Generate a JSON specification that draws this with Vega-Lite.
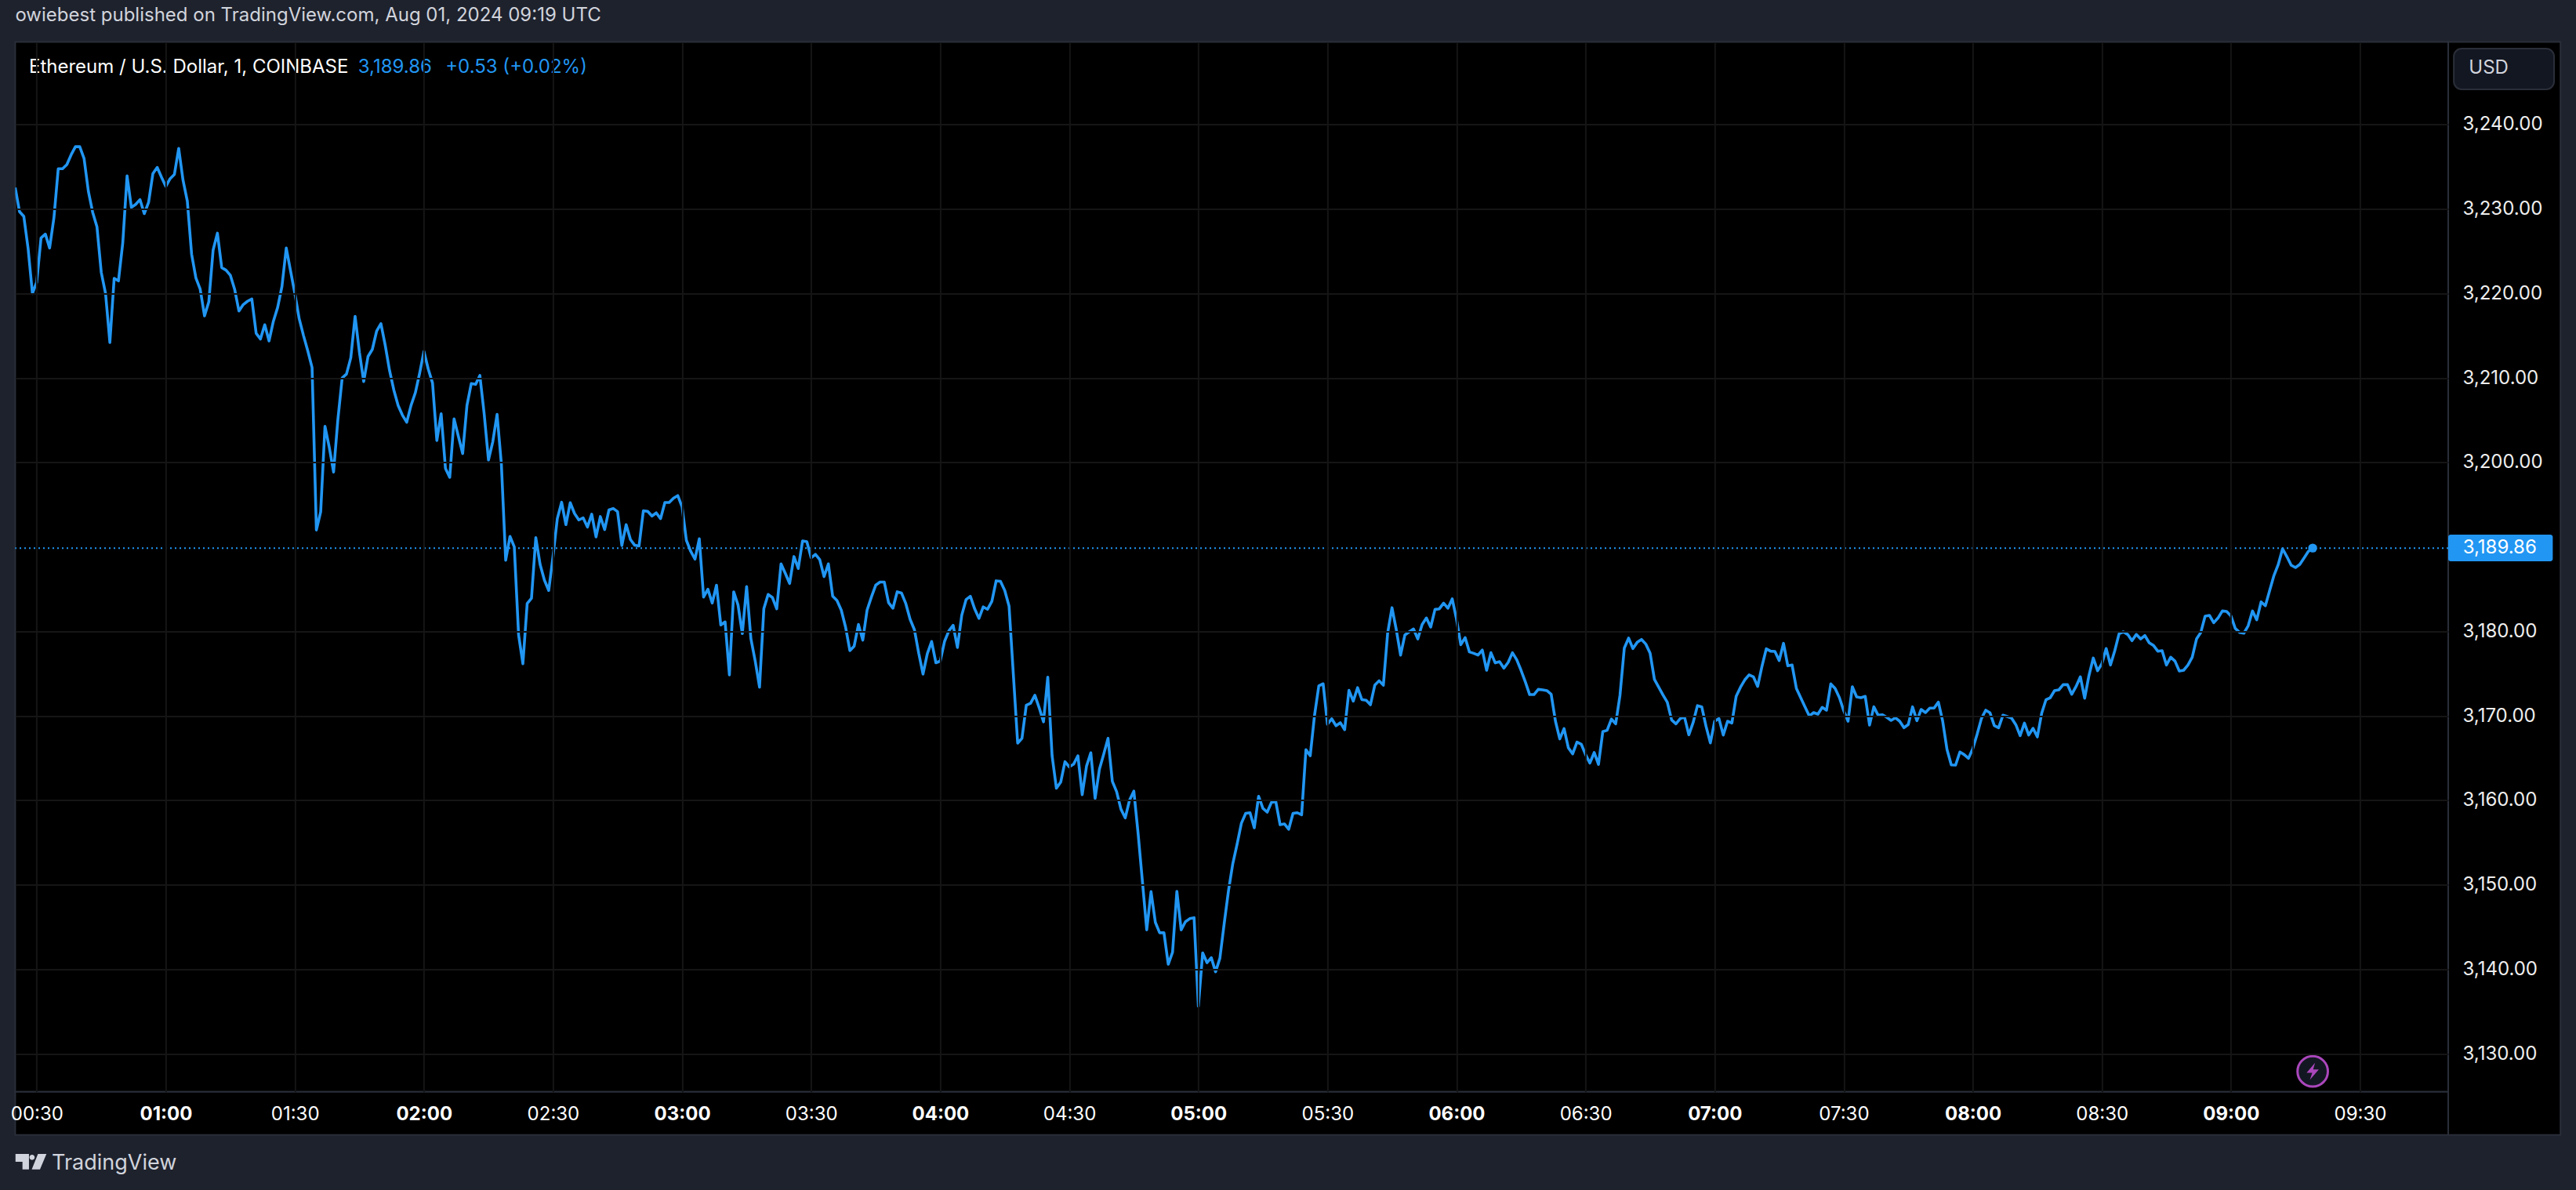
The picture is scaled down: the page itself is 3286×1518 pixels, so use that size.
{
"$schema":"https://vega.github.io/schema/vega-lite/v6.json",
"width":3103.6,"height":1339.2,
"autosize":"none",
"padding":{"left":19.4,"top":53.5,"right":163,"bottom":125.3},
"background":"#1e222d",
"title":{"text":"owiebest published on TradingView.com, Aug 01, 2024 09:19 UTC","anchor":"start","frame":"group","offset":9,"baseline":"middle","font":"Inter","fontSize":24,"fontWeight":"normal","color":"#d1d4dc"},
"view":{"fill":"#000000","stroke":"#2a2e39","strokeWidth":2},
"config":{"font":"Inter"},
"layer":[
{"data":{"values":[{"panel":"price"}]},
 "mark":{"type":"rect","fill":"#000000","stroke":"#2a2e39","strokeWidth":2},
 "encoding":{"x":{"datum":{"year":1900,"month":1,"date":1,"hours":9,"minutes":50,"seconds":30,"utc":true},"type":"temporal","title":null},"x2":{"datum":{"year":1900,"month":1,"date":1,"hours":10,"minutes":16,"seconds":36,"utc":true}},"y":{"datum":3249.79,"type":"quantitative","title":null},"y2":{"datum":3120.38}}},
{"data":{"values":[{"panel":"time"}]},
 "mark":{"type":"rect","fill":"#000000","stroke":"#2a2e39","strokeWidth":2},
 "encoding":{"x":{"datum":{"year":1900,"month":1,"date":1,"hours":0,"minutes":25,"utc":true},"type":"temporal","title":null},"x2":{"datum":{"year":1900,"month":1,"date":1,"hours":9,"minutes":50,"seconds":30,"utc":true}},"y":{"datum":3125.48,"type":"quantitative","title":null},"y2":{"datum":3120.38}}},
{"data":{"values":[{"panel":"currency"}]},
 "mark":{"type":"rect","fill":"#131722","stroke":"#2a2e39","strokeWidth":2,"cornerRadius":10},
 "encoding":{"x":{"datum":{"year":1900,"month":1,"date":1,"hours":9,"minutes":51,"seconds":48,"utc":true},"type":"temporal","title":null},"x2":{"datum":{"year":1900,"month":1,"date":1,"hours":10,"minutes":15,"seconds":6,"utc":true}},"y":{"datum":3249.0,"type":"quantitative","title":null},"y2":{"datum":3244.18}}},
{"data":{"values":[{"last":3189.86}]},
 "mark":{"type":"rule","color":"#2196f3","strokeWidth":2,"strokeDash":[2,4]},
 "encoding":{"y":{"field":"last","type":"quantitative","title":null}}},
{"data":{"format":{"parse":{"t":"utc:'%H:%M'"}},"values":[
{"t":"00:25","p":3232.55},{"t":"00:26","p":3229.7},{"t":"00:27","p":3229.13},{"t":"00:28","p":3225.32},{"t":"00:29","p":3220.0},{"t":"00:30","p":3221.34},{"t":"00:31","p":3226.58},{"t":"00:32","p":3227.04},{"t":"00:33","p":3225.39},{"t":"00:34","p":3228.97},{"t":"00:35","p":3234.77},{"t":"00:36","p":3234.77},{"t":"00:37","p":3235.27},{"t":"00:38","p":3236.43},{"t":"00:39","p":3237.39},{"t":"00:40","p":3237.39},{"t":"00:41","p":3236.0},{"t":"00:42","p":3232.12},{"t":"00:43","p":3229.63},{"t":"00:44","p":3227.91},{"t":"00:45","p":3222.5},{"t":"00:46","p":3220.0},{"t":"00:47","p":3214.2},{"t":"00:48","p":3221.8},{"t":"00:49","p":3221.5},{"t":"00:50","p":3226.0},{"t":"00:51","p":3233.94},{"t":"00:52","p":3230.2},{"t":"00:53","p":3230.56},{"t":"00:54","p":3231.12},{"t":"00:55","p":3229.46},{"t":"00:56","p":3230.79},{"t":"00:57","p":3234.2},{"t":"00:58","p":3234.93},{"t":"00:59","p":3233.77},
{"t":"01:00","p":3232.68},{"t":"01:01","p":3233.6},{"t":"01:02","p":3234.1},{"t":"01:03","p":3237.19},{"t":"01:04","p":3233.44},{"t":"01:05","p":3230.95},{"t":"01:06","p":3224.66},{"t":"01:07","p":3221.84},{"t":"01:08","p":3220.51},{"t":"01:09","p":3217.36},{"t":"01:10","p":3219.02},{"t":"01:11","p":3225.15},{"t":"01:12","p":3227.15},{"t":"01:13","p":3223.07},{"t":"01:14","p":3222.77},{"t":"01:15","p":3222.17},{"t":"01:16","p":3220.51},{"t":"01:17","p":3217.93},{"t":"01:18","p":3218.69},{"t":"01:19","p":3219.09},{"t":"01:20","p":3219.35},{"t":"01:21","p":3215.3},{"t":"01:22","p":3214.61},{"t":"01:23","p":3216.3},{"t":"01:24","p":3214.38},{"t":"01:25","p":3216.7},{"t":"01:26","p":3218.36},{"t":"01:27","p":3220.84},{"t":"01:28","p":3225.39},{"t":"01:29","p":3222.67},{"t":"01:30","p":3220.0},{"t":"01:31","p":3217.03},{"t":"01:32","p":3215.04},{"t":"01:33","p":3213.22},{"t":"01:34","p":3211.23},{"t":"01:35","p":3192.0},{"t":"01:36","p":3194.15},{"t":"01:37","p":3204.27},{"t":"01:38","p":3201.78},{"t":"01:39","p":3198.86},{"t":"01:40","p":3205.1},{"t":"01:41","p":3210.0},{"t":"01:42","p":3210.47},{"t":"01:43","p":3212.39},{"t":"01:44","p":3217.3},{"t":"01:45","p":3213.05},{"t":"01:46","p":3209.57},{"t":"01:47","p":3212.55},{"t":"01:48","p":3213.38},{"t":"01:49","p":3215.54},{"t":"01:50","p":3216.44},{"t":"01:51","p":3213.88},{"t":"01:52","p":3210.9},{"t":"01:53","p":3208.58},{"t":"01:54","p":3206.75},{"t":"01:55","p":3205.6},{"t":"01:56","p":3204.76},{"t":"01:57","p":3206.75},{"t":"01:58","p":3208.25},{"t":"01:59","p":3210.57},
{"t":"02:00","p":3213.15},{"t":"02:01","p":3211.06},{"t":"02:02","p":3209.4},{"t":"02:03","p":3202.6},{"t":"02:04","p":3205.76},{"t":"02:05","p":3199.3},{"t":"02:06","p":3198.23},{"t":"02:07","p":3205.16},{"t":"02:08","p":3203.1},{"t":"02:09","p":3201.05},{"t":"02:10","p":3206.75},{"t":"02:11","p":3209.34},{"t":"02:12","p":3209.24},{"t":"02:13","p":3210.3},{"t":"02:14","p":3205.76},{"t":"02:15","p":3200.29},{"t":"02:16","p":3202.44},{"t":"02:17","p":3205.69},{"t":"02:18","p":3199.79},{"t":"02:19","p":3188.42},{"t":"02:20","p":3191.24},{"t":"02:21","p":3190.0},{"t":"02:22","p":3179.58},{"t":"02:23","p":3176.17},{"t":"02:24","p":3183.29},{"t":"02:25","p":3183.91},{"t":"02:26","p":3191.09},{"t":"02:27","p":3187.93},{"t":"02:28","p":3186.07},{"t":"02:29","p":3184.84},{"t":"02:30","p":3188.86},{"t":"02:31","p":3193.34},{"t":"02:32","p":3195.29},{"t":"02:33","p":3192.63},{"t":"02:34","p":3195.23},{"t":"02:35","p":3193.96},{"t":"02:36","p":3193.19},{"t":"02:37","p":3193.44},{"t":"02:38","p":3192.35},{"t":"02:39","p":3193.87},{"t":"02:40","p":3191.18},{"t":"02:41","p":3193.59},{"t":"02:42","p":3192.05},{"t":"02:43","p":3194.37},{"t":"02:44","p":3194.55},{"t":"02:45","p":3194.18},{"t":"02:46","p":3190.16},{"t":"02:47","p":3192.63},{"t":"02:48","p":3190.87},{"t":"02:49","p":3190.19},{"t":"02:50","p":3190.1},{"t":"02:51","p":3194.27},{"t":"02:52","p":3194.21},{"t":"02:53","p":3193.65},{"t":"02:54","p":3194.03},{"t":"02:55","p":3193.34},{"t":"02:56","p":3195.26},{"t":"02:57","p":3195.26},{"t":"02:58","p":3195.76},{"t":"02:59","p":3196.07},
{"t":"03:00","p":3194.74},{"t":"03:01","p":3190.78},{"t":"03:02","p":3189.48},{"t":"03:03","p":3188.55},{"t":"03:04","p":3190.96},{"t":"03:05","p":3184.06},{"t":"03:06","p":3184.99},{"t":"03:07","p":3183.35},{"t":"03:08","p":3185.46},{"t":"03:09","p":3180.75},{"t":"03:10","p":3181.12},{"t":"03:11","p":3174.84},{"t":"03:12","p":3184.68},{"t":"03:13","p":3183.13},{"t":"03:14","p":3179.73},{"t":"03:15","p":3185.3},{"t":"03:16","p":3179.11},{"t":"03:17","p":3176.48},{"t":"03:18","p":3173.39},{"t":"03:19","p":3182.67},{"t":"03:20","p":3184.37},{"t":"03:21","p":3184.0},{"t":"03:22","p":3182.67},{"t":"03:23","p":3187.99},{"t":"03:24","p":3186.85},{"t":"03:25","p":3185.67},{"t":"03:26","p":3188.86},{"t":"03:27","p":3187.44},{"t":"03:28","p":3190.71},{"t":"03:29","p":3190.62},{"t":"03:30","p":3188.7},{"t":"03:31","p":3189.11},{"t":"03:32","p":3188.49},{"t":"03:33","p":3186.48},{"t":"03:34","p":3187.99},{"t":"03:35","p":3184.16},{"t":"03:36","p":3183.66},{"t":"03:37","p":3182.52},{"t":"03:38","p":3180.5},{"t":"03:39","p":3177.72},{"t":"03:40","p":3178.25},{"t":"03:41","p":3180.81},{"t":"03:42","p":3178.96},{"t":"03:43","p":3182.52},{"t":"03:44","p":3184.06},{"t":"03:45","p":3185.46},{"t":"03:46","p":3185.83},{"t":"03:47","p":3185.83},{"t":"03:48","p":3183.38},{"t":"03:49","p":3182.73},{"t":"03:50","p":3184.68},{"t":"03:51","p":3184.53},{"t":"03:52","p":3183.29},{"t":"03:53","p":3181.43},{"t":"03:54","p":3180.2},{"t":"03:55","p":3177.41},{"t":"03:56","p":3174.94},{"t":"03:57","p":3177.35},{"t":"03:58","p":3178.8},{"t":"03:59","p":3176.27},
{"t":"04:00","p":3176.48},{"t":"04:01","p":3178.8},{"t":"04:02","p":3180.04},{"t":"04:03","p":3180.72},{"t":"04:04","p":3178.09},{"t":"04:05","p":3181.9},{"t":"04:06","p":3183.75},{"t":"04:07","p":3184.16},{"t":"04:08","p":3182.67},{"t":"04:09","p":3181.53},{"t":"04:10","p":3182.89},{"t":"04:11","p":3182.61},{"t":"04:12","p":3183.54},{"t":"04:13","p":3185.98},{"t":"04:14","p":3185.92},{"t":"04:15","p":3184.84},{"t":"04:16","p":3182.98},{"t":"04:17","p":3174.86},{"t":"04:18","p":3166.76},{"t":"04:19","p":3167.33},{"t":"04:20","p":3171.24},{"t":"04:21","p":3171.49},{"t":"04:22","p":3172.44},{"t":"04:23","p":3170.95},{"t":"04:24","p":3169.28},{"t":"04:25","p":3174.58},{"t":"04:26","p":3165.27},{"t":"04:27","p":3161.43},{"t":"04:28","p":3162.14},{"t":"04:29","p":3164.56},{"t":"04:30","p":3163.95},{"t":"04:31","p":3164.27},{"t":"04:32","p":3165.27},{"t":"04:33","p":3160.65},{"t":"04:34","p":3164.03},{"t":"04:35","p":3165.62},{"t":"04:36","p":3160.22},{"t":"04:37","p":3163.67},{"t":"04:38","p":3165.45},{"t":"04:39","p":3167.33},{"t":"04:40","p":3162.25},{"t":"04:41","p":3161.01},{"t":"04:42","p":3158.95},{"t":"04:43","p":3157.91},{"t":"04:44","p":3160.01},{"t":"04:45","p":3161.08},{"t":"04:46","p":3156.03},{"t":"04:47","p":3150.35},{"t":"04:48","p":3144.66},{"t":"04:49","p":3149.18},{"t":"04:50","p":3145.55},{"t":"04:51","p":3144.31},{"t":"04:52","p":3144.31},{"t":"04:53","p":3140.58},{"t":"04:54","p":3142.0},{"t":"04:55","p":3149.21},{"t":"04:56","p":3144.66},{"t":"04:57","p":3145.62},{"t":"04:58","p":3145.98},{"t":"04:59","p":3146.09},
{"t":"05:00","p":3135.61},{"t":"05:01","p":3141.93},{"t":"05:02","p":3140.76},{"t":"05:03","p":3141.36},{"t":"05:04","p":3139.69},{"t":"05:05","p":3141.29},{"t":"05:06","p":3145.38},{"t":"05:07","p":3149.28},{"t":"05:08","p":3152.48},{"t":"05:09","p":3154.79},{"t":"05:10","p":3157.28},{"t":"05:11","p":3158.45},{"t":"05:12","p":3158.52},{"t":"05:13","p":3156.74},{"t":"05:14","p":3160.47},{"t":"05:15","p":3159.05},{"t":"05:16","p":3158.59},{"t":"05:17","p":3159.76},{"t":"05:18","p":3159.83},{"t":"05:19","p":3157.1},{"t":"05:20","p":3157.2},{"t":"05:21","p":3156.57},{"t":"05:22","p":3158.45},{"t":"05:23","p":3158.52},{"t":"05:24","p":3158.27},{"t":"05:25","p":3165.98},{"t":"05:26","p":3165.27},{"t":"05:27","p":3170.06},{"t":"05:28","p":3173.55},{"t":"05:29","p":3173.79},{"t":"05:30","p":3169.0},{"t":"05:31","p":3169.64},{"t":"05:32","p":3168.82},{"t":"05:33","p":3169.18},{"t":"05:34","p":3168.36},{"t":"05:35","p":3173.01},{"t":"05:36","p":3171.73},{"t":"05:37","p":3173.33},{"t":"05:38","p":3171.91},{"t":"05:39","p":3171.84},{"t":"05:40","p":3171.31},{"t":"05:41","p":3173.62},{"t":"05:42","p":3174.15},{"t":"05:43","p":3173.62},{"t":"05:44","p":3179.83},{"t":"05:45","p":3182.8},{"t":"05:46","p":3180.2},{"t":"05:47","p":3177.19},{"t":"05:48","p":3179.57},{"t":"05:49","p":3179.94},{"t":"05:50","p":3180.28},{"t":"05:51","p":3179.1},{"t":"05:52","p":3180.8},{"t":"05:53","p":3181.58},{"t":"05:54","p":3180.5},{"t":"05:55","p":3182.6},{"t":"05:56","p":3182.66},{"t":"05:57","p":3183.34},{"t":"05:58","p":3182.73},{"t":"05:59","p":3183.84},
{"t":"06:00","p":3181.43},{"t":"06:01","p":3178.42},{"t":"06:02","p":3179.26},{"t":"06:03","p":3177.56},{"t":"06:04","p":3177.4},{"t":"06:05","p":3177.19},{"t":"06:06","p":3177.78},{"t":"06:07","p":3175.39},{"t":"06:08","p":3177.47},{"t":"06:09","p":3176.26},{"t":"06:10","p":3176.41},{"t":"06:11","p":3175.64},{"t":"06:12","p":3176.32},{"t":"06:13","p":3177.47},{"t":"06:14","p":3176.63},{"t":"06:15","p":3175.39},{"t":"06:16","p":3174.0},{"t":"06:17","p":3172.51},{"t":"06:18","p":3172.51},{"t":"06:19","p":3173.13},{"t":"06:20","p":3173.07},{"t":"06:21","p":3172.98},{"t":"06:22","p":3172.55},{"t":"06:23","p":3169.36},{"t":"06:24","p":3167.26},{"t":"06:25","p":3168.49},{"t":"06:26","p":3166.2},{"t":"06:27","p":3165.49},{"t":"06:28","p":3166.88},{"t":"06:29","p":3166.64},{"t":"06:30","p":3165.4},{"t":"06:31","p":3164.41},{"t":"06:32","p":3165.65},{"t":"06:33","p":3164.25},{"t":"06:34","p":3168.12},{"t":"06:35","p":3168.28},{"t":"06:36","p":3169.61},{"t":"06:37","p":3169.05},{"t":"06:38","p":3172.45},{"t":"06:39","p":3178.02},{"t":"06:40","p":3179.2},{"t":"06:41","p":3177.96},{"t":"06:42","p":3178.7},{"t":"06:43","p":3179.04},{"t":"06:44","p":3178.49},{"t":"06:45","p":3177.4},{"t":"06:46","p":3174.31},{"t":"06:47","p":3173.38},{"t":"06:48","p":3172.45},{"t":"06:49","p":3171.59},{"t":"06:50","p":3169.51},{"t":"06:51","p":3169.05},{"t":"06:52","p":3169.67},{"t":"06:53","p":3169.84},{"t":"06:54","p":3167.75},{"t":"06:55","p":3169.2},{"t":"06:56","p":3171.2},{"t":"06:57","p":3171.06},{"t":"06:58","p":3168.74},{"t":"06:59","p":3166.79},
{"t":"07:00","p":3169.36},{"t":"07:01","p":3169.67},{"t":"07:02","p":3167.72},{"t":"07:03","p":3169.36},{"t":"07:04","p":3169.14},{"t":"07:05","p":3172.3},{"t":"07:06","p":3173.38},{"t":"07:07","p":3174.25},{"t":"07:08","p":3174.84},{"t":"07:09","p":3174.62},{"t":"07:10","p":3173.47},{"t":"07:11","p":3175.86},{"t":"07:12","p":3177.93},{"t":"07:13","p":3177.65},{"t":"07:14","p":3177.62},{"t":"07:15","p":3176.54},{"t":"07:16","p":3178.58},{"t":"07:17","p":3175.92},{"t":"07:18","p":3176.01},{"t":"07:19","p":3173.23},{"t":"07:20","p":3172.14},{"t":"07:21","p":3171.06},{"t":"07:22","p":3169.98},{"t":"07:23","p":3170.38},{"t":"07:24","p":3170.2},{"t":"07:25","p":3171.0},{"t":"07:26","p":3170.66},{"t":"07:27","p":3173.78},{"t":"07:28","p":3173.23},{"t":"07:29","p":3172.14},{"t":"07:30","p":3170.6},{"t":"07:31","p":3169.36},{"t":"07:32","p":3173.44},{"t":"07:33","p":3172.24},{"t":"07:34","p":3172.14},{"t":"07:35","p":3172.3},{"t":"07:36","p":3168.9},{"t":"07:37","p":3171.06},{"t":"07:38","p":3170.07},{"t":"07:39","p":3170.13},{"t":"07:40","p":3169.82},{"t":"07:41","p":3169.45},{"t":"07:42","p":3169.76},{"t":"07:43","p":3169.36},{"t":"07:44","p":3168.59},{"t":"07:45","p":3168.96},{"t":"07:46","p":3171.06},{"t":"07:47","p":3169.42},{"t":"07:48","p":3170.75},{"t":"07:49","p":3170.38},{"t":"07:50","p":3170.91},{"t":"07:51","p":3170.91},{"t":"07:52","p":3171.62},{"t":"07:53","p":3169.36},{"t":"07:54","p":3166.02},{"t":"07:55","p":3164.19},{"t":"07:56","p":3164.16},{"t":"07:57","p":3165.71},{"t":"07:58","p":3165.4},{"t":"07:59","p":3164.96},
{"t":"08:00","p":3166.11},{"t":"08:01","p":3167.81},{"t":"08:02","p":3169.67},{"t":"08:03","p":3170.66},{"t":"08:04","p":3170.35},{"t":"08:05","p":3168.83},{"t":"08:06","p":3168.58},{"t":"08:07","p":3170.07},{"t":"08:08","p":3169.91},{"t":"08:09","p":3169.73},{"t":"08:10","p":3168.95},{"t":"08:11","p":3167.65},{"t":"08:12","p":3169.14},{"t":"08:13","p":3167.72},{"t":"08:14","p":3168.52},{"t":"08:15","p":3167.5},{"t":"08:16","p":3170.28},{"t":"08:17","p":3171.89},{"t":"08:18","p":3172.14},{"t":"08:19","p":3172.98},{"t":"08:20","p":3173.07},{"t":"08:21","p":3173.69},{"t":"08:22","p":3173.69},{"t":"08:23","p":3172.54},{"t":"08:24","p":3173.47},{"t":"08:25","p":3174.62},{"t":"08:26","p":3172.08},{"t":"08:27","p":3174.77},{"t":"08:28","p":3176.84},{"t":"08:29","p":3175.33},{"t":"08:30","p":3176.16},{"t":"08:31","p":3177.96},{"t":"08:32","p":3176.01},{"t":"08:33","p":3177.71},{"t":"08:34","p":3179.72},{"t":"08:35","p":3179.94},{"t":"08:36","p":3179.63},{"t":"08:37","p":3178.89},{"t":"08:38","p":3179.63},{"t":"08:39","p":3179.1},{"t":"08:40","p":3179.5},{"t":"08:41","p":3178.64},{"t":"08:42","p":3178.33},{"t":"08:43","p":3177.65},{"t":"08:44","p":3177.71},{"t":"08:45","p":3176.01},{"t":"08:46","p":3176.94},{"t":"08:47","p":3176.47},{"t":"08:48","p":3175.3},{"t":"08:49","p":3175.39},{"t":"08:50","p":3176.01},{"t":"08:51","p":3176.94},{"t":"08:52","p":3179.1},{"t":"08:53","p":3179.88},{"t":"08:54","p":3181.79},{"t":"08:55","p":3181.89},{"t":"08:56","p":3181.02},{"t":"08:57","p":3181.58},{"t":"08:58","p":3182.41},{"t":"08:59","p":3182.35},
{"t":"09:00","p":3181.83},{"t":"09:01","p":3180.34},{"t":"09:02","p":3179.88},{"t":"09:03","p":3179.78},{"t":"09:04","p":3180.65},{"t":"09:05","p":3182.41},{"t":"09:06","p":3181.36},{"t":"09:07","p":3183.48},{"t":"09:08","p":3183.03},{"t":"09:09","p":3184.83},{"t":"09:10","p":3186.62},{"t":"09:11","p":3187.92},{"t":"09:12","p":3189.78},{"t":"09:13","p":3188.85},{"t":"09:14","p":3187.83},{"t":"09:15","p":3187.55},{"t":"09:16","p":3187.92},{"t":"09:17","p":3188.69},{"t":"09:18","p":3189.47},{"t":"09:19","p":3189.86}
]},
 "mark":{"type":"line","color":"#2196f3","strokeWidth":3.6,"strokeJoin":"round","clip":true},
 "encoding":{
  "x":{"field":"t","type":"temporal","title":null,
   "scale":{"type":"utc","domain":["1900-01-01T00:25:00Z","1900-01-01T09:50:30Z"],"nice":false},
   "axis":{"format":"%H:%M","values":[{"year":1900,"month":1,"date":1,"hours":0,"minutes":30,"utc":true},{"year":1900,"month":1,"date":1,"hours":1,"minutes":0,"utc":true},{"year":1900,"month":1,"date":1,"hours":1,"minutes":30,"utc":true},{"year":1900,"month":1,"date":1,"hours":2,"minutes":0,"utc":true},{"year":1900,"month":1,"date":1,"hours":2,"minutes":30,"utc":true},{"year":1900,"month":1,"date":1,"hours":3,"minutes":0,"utc":true},{"year":1900,"month":1,"date":1,"hours":3,"minutes":30,"utc":true},{"year":1900,"month":1,"date":1,"hours":4,"minutes":0,"utc":true},{"year":1900,"month":1,"date":1,"hours":4,"minutes":30,"utc":true},{"year":1900,"month":1,"date":1,"hours":5,"minutes":0,"utc":true},{"year":1900,"month":1,"date":1,"hours":5,"minutes":30,"utc":true},{"year":1900,"month":1,"date":1,"hours":6,"minutes":0,"utc":true},{"year":1900,"month":1,"date":1,"hours":6,"minutes":30,"utc":true},{"year":1900,"month":1,"date":1,"hours":7,"minutes":0,"utc":true},{"year":1900,"month":1,"date":1,"hours":7,"minutes":30,"utc":true},{"year":1900,"month":1,"date":1,"hours":8,"minutes":0,"utc":true},{"year":1900,"month":1,"date":1,"hours":8,"minutes":30,"utc":true},{"year":1900,"month":1,"date":1,"hours":9,"minutes":0,"utc":true},{"year":1900,"month":1,"date":1,"hours":9,"minutes":30,"utc":true}],"domain":false,"ticks":false,"tickSize":0,"labelPadding":29,"labelBaseline":"middle","labelFont":"Inter","labelFontSize":24,"labelColor":"#ffffff","labelOverlap":false,"labelFlush":false,"labelBound":false,"grid":true,"gridColor":"#151515","gridWidth":2,"zindex":1,
    "labelFontWeight":{"condition":{"test":"utcminutes(datum.value)==0","value":"bold"},"value":"normal"}}},
  "y":{"field":"p","type":"quantitative","title":null,
   "scale":{"domain":[3125.48,3249.79],"zero":false,"nice":false},
   "axis":{"orient":"right","values":[3130,3140,3150,3160,3170,3180,3200,3210,3220,3230,3240],"format":",.2f","domain":false,"ticks":false,"tickSize":0,"labelPadding":18,"labelFont":"Inter","labelFontSize":24,"labelColor":"#eeeeee","labelOverlap":false,"grid":true,"gridColor":"#151515","gridWidth":2,"zindex":1}}}},
{"data":{"values":[{"point":"latest"}]},
 "mark":{"type":"point","filled":true,"opacity":1,"color":"#2196f3","size":130},
 "encoding":{"x":{"datum":{"year":1900,"month":1,"date":1,"hours":9,"minutes":19,"utc":true},"type":"temporal","title":null},"y":{"datum":3189.86,"type":"quantitative","title":null}}},
{"data":{"values":[{"tag":"last price"}]},
 "mark":{"type":"rect","fill":"#2196f3","cornerRadius":3},
 "encoding":{"x":{"datum":{"year":1900,"month":1,"date":1,"hours":9,"minutes":50,"seconds":30,"utc":true},"type":"temporal","title":null},"x2":{"datum":{"year":1900,"month":1,"date":1,"hours":10,"minutes":14,"seconds":48,"utc":true}},"y":{"datum":3191.45,"type":"quantitative","title":null},"y2":{"datum":3188.3}}},
{"data":{"values":[{"label":"3,189.86"}]},
 "mark":{"type":"text","align":"left","baseline":"middle","font":"Inter","fontSize":24,"color":"#ffffff"},
 "encoding":{"text":{"field":"label"},"x":{"datum":{"year":1900,"month":1,"date":1,"hours":9,"minutes":53,"seconds":54,"utc":true},"type":"temporal","title":null},"y":{"datum":3189.86,"type":"quantitative","title":null}}},
{"data":{"values":[{"label":"USD"}]},
 "mark":{"type":"text","align":"left","baseline":"middle","font":"Inter","fontSize":24,"color":"#d1d4dc"},
 "encoding":{"text":{"field":"label"},"x":{"datum":{"year":1900,"month":1,"date":1,"hours":9,"minutes":55,"seconds":18,"utc":true},"type":"temporal","title":null},"y":{"datum":3246.68,"type":"quantitative","title":null}}},
{"data":{"values":[{"label":"Ethereum / U.S. Dollar, 1, COINBASE"}]},
 "mark":{"type":"text","align":"left","baseline":"middle","font":"Inter","fontSize":24,"color":"#ffffff"},
 "encoding":{"text":{"field":"label"},"x":{"datum":{"year":1900,"month":1,"date":1,"hours":0,"minutes":28,"seconds":12,"utc":true},"type":"temporal","title":null},"y":{"datum":3246.78,"type":"quantitative","title":null}}},
{"data":{"values":[{"label":"3,189.86"}]},
 "mark":{"type":"text","align":"left","baseline":"middle","font":"Inter","fontSize":24,"color":"#2196f3"},
 "encoding":{"text":{"field":"label"},"x":{"datum":{"year":1900,"month":1,"date":1,"hours":1,"minutes":44,"seconds":42,"utc":true},"type":"temporal","title":null},"y":{"datum":3246.78,"type":"quantitative","title":null}}},
{"data":{"values":[{"label":"+0.53 (+0.02%)"}]},
 "mark":{"type":"text","align":"left","baseline":"middle","font":"Inter","fontSize":24,"color":"#2196f3"},
 "encoding":{"text":{"field":"label"},"x":{"datum":{"year":1900,"month":1,"date":1,"hours":2,"minutes":5,"utc":true},"type":"temporal","title":null},"y":{"datum":3246.78,"type":"quantitative","title":null}}},
{"data":{"values":[{"label":"TradingView"}]},
 "mark":{"type":"text","align":"left","baseline":"middle","font":"Inter","fontSize":27,"color":"#d1d4dc"},
 "encoding":{"text":{"field":"label"},"x":{"datum":{"year":1900,"month":1,"date":1,"hours":0,"minutes":33,"seconds":30,"utc":true},"type":"temporal","title":null},"y":{"datum":3117.0,"type":"quantitative","title":null}}},
{"data":{"values":[{"icon":"logo"}]},
 "mark":{"type":"point","filled":true,"opacity":1,"color":"#d1d4dc","size":1560,
  "shape":"M-1,-0.5L-0.13,-0.5L-0.13,0.5L-0.55,0.5L-0.55,0L-1,0ZM-0.1,-0.28a0.17,0.17 0 1,0 0.34,0a0.17,0.17 0 1,0 -0.34,0ZM0.45,-0.5L1,-0.5L0.58,0.5L0.05,0.5Z"},
 "encoding":{"x":{"datum":{"year":1900,"month":1,"date":1,"hours":0,"minutes":28,"seconds":40,"utc":true},"type":"temporal","title":null},"y":{"datum":3117.2,"type":"quantitative","title":null}}},
{"data":{"values":[{"icon":"badge"}]},
 "mark":{"type":"point","filled":true,"opacity":1,"fill":"#131722","stroke":"#ab47bc","strokeWidth":3,"size":1500,"shape":"circle"},
 "encoding":{"x":{"datum":{"year":1900,"month":1,"date":1,"hours":9,"minutes":19,"utc":true},"type":"temporal","title":null},"y":{"datum":3127.9,"type":"quantitative","title":null}}},
{"data":{"values":[{"icon":"bolt"}]},
 "mark":{"type":"point","filled":true,"opacity":1,"color":"#ab47bc","size":576,
  "shape":"M0.25,-0.9L-0.65,0.15L-0.05,0.15L-0.3,0.9L0.65,-0.2L0.05,-0.2Z"},
 "encoding":{"x":{"datum":{"year":1900,"month":1,"date":1,"hours":9,"minutes":19,"utc":true},"type":"temporal","title":null},"y":{"datum":3127.9,"type":"quantitative","title":null}}}
]
}
